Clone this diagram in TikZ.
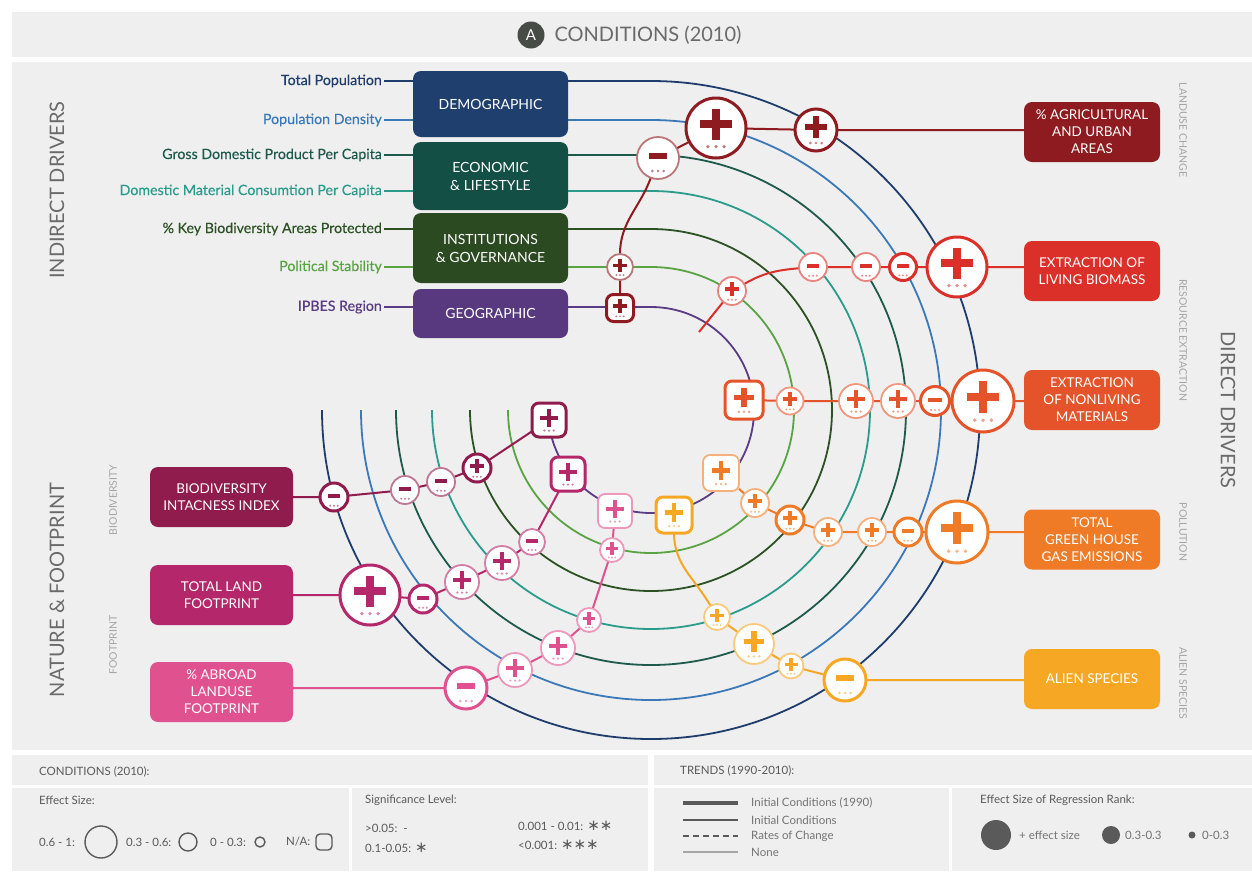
\documentclass[tikz,border=0pt]{standalone}
\usepackage{fontspec}
\setmainfont{Lato}
\newfontfamily\latom{Lato}[FakeBold=0.35]
\newfontfamily\djv{DejaVu Sans}
\usetikzlibrary{calc}
\pgfdeclarelayer{panel}\pgfdeclarelayer{bg}\pgfsetlayers{panel,bg,main}
\definecolor{cPanel}{HTML}{EFEFEF}
\definecolor{cTP}{HTML}{1F3D6C}
\definecolor{cPD}{HTML}{3B78B8}
\definecolor{cGDP}{HTML}{1D5A4C}
\definecolor{cDMC}{HTML}{2B9B8C}
\definecolor{cKBA}{HTML}{2C5224}
\definecolor{cPS}{HTML}{5AA343}
\definecolor{cIP}{HTML}{5A3B85}
\definecolor{cDem}{HTML}{1F3F6E}
\definecolor{cEco}{HTML}{134F45}
\definecolor{cIns}{HTML}{2C4A21}
\definecolor{cGeo}{HTML}{58397F}
\definecolor{cAgri}{HTML}{8E1B1F}
\definecolor{cLiv}{HTML}{DA3029}
\definecolor{cNon}{HTML}{E4532A}
\definecolor{cGhg}{HTML}{EF7B27}
\definecolor{cAli}{HTML}{F6A724}
\definecolor{cBii}{HTML}{8F1C4C}
\definecolor{cTlf}{HTML}{B5276B}
\definecolor{cAlf}{HTML}{E0528F}
\definecolor{cSide}{HTML}{6A6A6A}
\definecolor{cSmall}{HTML}{A5A5A5}
\definecolor{cLg}{HTML}{5A5A5A}
\definecolor{cBadge}{HTML}{474D46}
% sign mark: x y r color sign
\newcommand\sgmark[5]{%
  \ifx p#5%
    \fill[#4] ({#1-0.52*(#3)},{#2-0.265*(#3)}) rectangle ({#1+0.52*(#3)},{#2+0.005*(#3)});
    \fill[#4] ({#1-0.135*(#3)},{#2-0.65*(#3)}) rectangle ({#1+0.135*(#3)},{#2+0.39*(#3)});
  \else
    \fill[#4] ({#1-0.45*(#3)},{#2-0.24*(#3)}) rectangle ({#1+0.45*(#3)},{#2+0.04*(#3)});
  \fi
  \foreach \k in {-0.27,0,0.27}{\fill[#4!55!white] ({#1+(\k)*(#3)},{#2+0.62*(#3)}) circle[radius={0.045*(#3)+0.5}];}%
}
\newcommand\sgc[7]{%
  \node[sgn#7=#5, circle, minimum size={2*(#4)}] (#1) at (#2,#3) {};
  \sgmark{#2}{#3}{#4}{#5}{#6}}
\newcommand\sgs[7]{%
  \node[sgn#7=#5, rounded corners=7pt, minimum size={#4}] (#1) at (#2,#3) {};
  \sgmark{#2}{#3}{0.5*(#4)}{#5}{#6}}
\begin{document}
\begin{tikzpicture}[x=1pt,y=-1pt,
  sgnk/.style={draw=#1, line width=3pt, fill=white, inner sep=0pt, outer sep=0pt},
  sgnt/.style={draw=#1!60!white, line width=1.8pt, fill=white, inner sep=0pt, outer sep=0pt},
  chn/.style={line width=2pt, draw=#1},
  arcl/.style={line width=1.8pt, draw=#1},
  lbl/.style={font=\latom\fontsize{14.2}{16}\selectfont, anchor=east, inner sep=2pt},
  idbox/.style={rounded corners=8pt, minimum width=155pt, text=white, align=center, font=\fontsize{14}{18}\selectfont, inner sep=2pt},
  ddbox/.style={rounded corners=8pt, minimum width=136pt, minimum height=60pt, text=white, align=center, font=\fontsize{13.5}{17}\selectfont, inner sep=2pt},
  nfbox/.style={rounded corners=8pt, minimum width=143pt, minimum height=60pt, text=white, align=center, font=\fontsize{13.5}{17}\selectfont, inner sep=2pt},
  side/.style={text=cSide, font=\fontsize{20}{24}\selectfont},
  small/.style={text=cSmall, font=\fontsize{10.5}{12}\selectfont},
  lg/.style={text=cLg, font=\fontsize{11.5}{13}\selectfont, anchor=west, inner sep=1pt},
  lgc/.style={circle, draw=cLg, line width=1.4pt, inner sep=0pt}
]
\useasboundingbox (0,0) rectangle (1252,871);
\begin{pgfonlayer}{panel}
  \fill[white] (0,0) rectangle (1252,871);
  \fill[cPanel] (12,12) rectangle (1252,57);
  \fill[cPanel] (12,62) rectangle (1252,750);
  \fill[cPanel] (12,755) rectangle (1252,871);
  \draw[white, line width=3pt] (12,786) -- (1252,786);
  \draw[white, line width=6pt] (651,755) -- (651,871);
  \draw[white, line width=3pt] (350,788) -- (350,871);
  \draw[white, line width=3pt] (950,788) -- (950,871);
\end{pgfonlayer}

% header
\node[circle, fill=cBadge, minimum size=27pt, text=white, font=\fontsize{15}{15}\selectfont, inner sep=0pt] (badge) at (531,35) {A};
\node[anchor=west, text=cSide, font=\fontsize{20}{24}\selectfont] (hdr) at (551,35) {CONDITIONS (2010)};

% side titles
\node[side, rotate=90] (tind) at (57,190) {INDIRECT DRIVERS};
\node[side, rotate=90] (tnat) at (57,590) {NATURE \& FOOTPRINT};
\node[side, rotate=-90] (tdir) at (1228,410) {DIRECT DRIVERS};
\node[small, rotate=-90] (s1) at (1183,130) {LANDUSE CHANGE};
\node[small, rotate=-90] (s2) at (1183,340) {RESOURCE EXTRACTION};
\node[small, rotate=-90] (s3) at (1183,532) {POLLUTION};
\node[small, rotate=-90] (s4) at (1183,683) {ALIEN SPECIES};
\node[small, rotate=90] (s5) at (113,500) {BIODIVERSITY};
\node[small, rotate=90] (s6) at (113,645) {FOOTPRINT};

% indirect driver boxes
\node[idbox, fill=cDem, minimum height=66pt] (dem) at (490.5,104) {DEMOGRAPHIC};
\node[idbox, fill=cEco, minimum height=68pt] (eco) at (490.5,176) {ECONOMIC\\\& LIFESTYLE};
\node[idbox, fill=cIns, minimum height=70pt] (ins) at (490.5,248) {INSTITUTIONS\\\& GOVERNANCE};
\node[idbox, fill=cGeo, minimum height=49pt] (geo) at (490.5,313.5) {GEOGRAPHIC};

\node[lbl, text=cTP] (tp) at (384,81) {Total Population};
\node[lbl, text=cPD] (pd) at (384,120) {Population Density};
\node[lbl, text=cGDP] (gdp) at (384,155) {Gross Domestic Product Per Capita};
\node[lbl, text=cDMC] (dmc) at (384,191) {Domestic Material Consumtion Per Capita};
\node[lbl, text=cKBA] (kba) at (384,229) {\% Key Biodiversity Areas Protected};
\node[lbl, text=cPS] (ps) at (384,267) {Political Stability};
\node[lbl, text=cIP] (ip) at (384,307) {IPBES Region};

% direct driver boxes
\node[ddbox, fill=cAgri] (agri) at (1092,132) {\% AGRICULTURAL\\AND URBAN\\AREAS};
\node[ddbox, fill=cLiv] (liv) at (1092,271) {EXTRACTION OF\\LIVING BIOMASS};
\node[ddbox, fill=cNon] (non) at (1092,400) {EXTRACTION\\OF NONLIVING\\MATERIALS};
\node[ddbox, fill=cGhg] (ghg) at (1092,539.5) {TOTAL\\GREEN HOUSE\\GAS EMISSIONS};
\node[ddbox, fill=cAli] (ali) at (1092,679) {ALIEN SPECIES};

% nature boxes
\node[nfbox, fill=cBii] (bii) at (221.5,497) {BIODIVERSITY\\INTACNESS INDEX};
\node[nfbox, fill=cTlf] (tlf) at (221.5,595) {TOTAL LAND\\FOOTPRINT};
\node[nfbox, fill=cAlf] (alf) at (221.5,692) {\% ABROAD\\LANDUSE\\FOOTPRINT};

% sign nodes
\sgc{a1}{816}{130}{21}{cAgri}{p}{k}
\sgc{a2}{716}{128}{30}{cAgri}{p}{k}
\sgc{a3}{658}{158}{21}{cAgri}{m}{t}
\sgc{a4}{620}{267}{13}{cAgri}{p}{t}
\sgs{a5}{620}{308}{27}{cAgri}{p}{k}

\sgc{b1}{957}{267}{30}{cLiv}{p}{k}
\sgc{b2}{903}{267}{13.5}{cLiv}{m}{k}
\sgc{b3}{866}{267}{14}{cLiv}{m}{t}
\sgc{b4}{813}{267}{14}{cLiv}{m}{t}
\sgc{b5}{732}{291}{14}{cLiv}{p}{t}
\coordinate (bend) at (699,332);

\sgc{c1}{983}{401}{31}{cNon}{p}{k}
\sgc{c2}{935}{401}{14.5}{cNon}{m}{k}
\sgc{c3}{898}{401}{17}{cNon}{p}{t}
\sgc{c4}{856}{401}{17}{cNon}{p}{t}
\sgc{c5}{790}{401}{13.5}{cNon}{p}{t}
\sgs{c6}{744}{400}{38}{cNon}{p}{k}

\sgc{d1}{957}{532}{31}{cGhg}{p}{k}
\sgc{d2}{908}{532}{14}{cGhg}{m}{k}
\sgc{d3}{872}{532}{14}{cGhg}{p}{t}
\sgc{d4}{828}{532}{14}{cGhg}{p}{t}
\sgc{d5}{790}{520}{14}{cGhg}{p}{k}
\sgc{d6}{755}{503}{14}{cGhg}{p}{t}
\sgs{d7}{721}{473}{36}{cGhg}{p}{t}

\sgc{e1}{845}{680}{21}{cAli}{m}{k}
\sgc{e2}{791}{666}{12.5}{cAli}{p}{t}
\sgc{e3}{754}{644}{20}{cAli}{p}{t}
\sgc{e4}{717}{617}{13}{cAli}{p}{t}
\sgs{e5}{674}{515}{36}{cAli}{p}{k}

\sgc{f1}{334}{497}{14}{cBii}{m}{k}
\sgc{f2}{405}{490}{14}{cBii}{m}{t}
\sgc{f3}{441}{482}{14}{cBii}{m}{t}
\sgc{f4}{477}{468}{14}{cBii}{p}{k}
\sgs{f5}{549}{420}{34}{cBii}{p}{k}

\sgc{g1}{370}{595}{30}{cTlf}{p}{k}
\sgc{g2}{423}{599}{14}{cTlf}{m}{k}
\sgc{g3}{462}{582}{17}{cTlf}{p}{t}
\sgc{g4}{502}{563}{17}{cTlf}{p}{t}
\sgc{g5}{532}{542}{13}{cTlf}{m}{t}
\sgs{g6}{568}{474}{34}{cTlf}{p}{k}

\sgc{h1}{466}{688}{21}{cAlf}{m}{k}
\sgc{h2}{515}{670}{17}{cAlf}{p}{t}
\sgc{h3}{558}{648}{17}{cAlf}{p}{t}
\sgc{h4}{589}{620}{12}{cAlf}{p}{t}
\sgc{h5}{612}{550}{12}{cAlf}{p}{t}
\sgs{h6}{615}{511}{34}{cAlf}{p}{t}

\begin{pgfonlayer}{bg}
  % label ticks
  \draw[arcl=cTP] (tp.east) -- (tp.east -| dem.west);
  \draw[arcl=cPD] (pd.east) -- (pd.east -| dem.west);
  \draw[arcl=cGDP] (gdp.east) -- (gdp.east -| eco.west);
  \draw[arcl=cDMC] (dmc.east) -- (dmc.east -| eco.west);
  \draw[arcl=cKBA] (kba.east) -- (kba.east -| ins.west);
  \draw[arcl=cPS] (ps.east) -- (ps.east -| ins.west);
  \draw[arcl=cIP] (ip.east) -- (ip.east -| geo.west);
  % arcs
  \draw[arcl=cTP] (tp.east -| dem.east) -- (651,81) arc[start angle=-90, end angle=180, radius=329];
  \draw[arcl=cPD] (pd.east -| dem.east) -- (651,120) arc[start angle=-90, end angle=180, radius=290];
  \draw[arcl=cGDP] (gdp.east -| eco.east) -- (651,155) arc[start angle=-90, end angle=180, radius=255];
  \draw[arcl=cDMC] (dmc.east -| eco.east) -- (651,191) arc[start angle=-90, end angle=180, radius=219];
  \draw[arcl=cKBA] (kba.east -| ins.east) -- (651,229) arc[start angle=-90, end angle=180, radius=181];
  \draw[arcl=cPS] (ps.east -| ins.east) -- (651,267) arc[start angle=-90, end angle=180, radius=143];
  \draw[arcl=cIP] (ip.east -| geo.east) -- (651,307) arc[start angle=-90, end angle=180, radius=103];
  % chains
  \draw[chn=cAgri] (a1 -| agri.west) -- (a1) -- (a2) -- (a3) to[out=250,in=90] (a4) -- (a5);
  \draw[chn=cLiv] (b1 -| liv.west) -- (b1) -- (b2) -- (b3) -- (b4) to[out=185,in=30] (b5) -- (bend);
  \draw[chn=cNon] (c1 -| non.west) -- (c1) -- (c2) -- (c3) -- (c4) -- (c5) -- (c6);
  \draw[chn=cGhg] (d1 -| ghg.west) -- (d1) -- (d2) -- (d3) -- (d4) -- (d5) -- (d6) -- (d7);
  \draw[chn=cAli] (e1 -| ali.west) -- (e1) -- (e2) -- (e3) -- (e4) to[out=120,in=-90] (e5);
  \draw[chn=cBii] (bii.east) -- (f1) -- (f2) -- (f3) -- (f4) -- (f5);
  \draw[chn=cTlf] (tlf.east) -- (g1) -- (g2) -- (g3) -- (g4) -- (g5) -- (g6);
  \draw[chn=cAlf] (h1 -| alf.east) -- (h1) -- (h2) -- (h3) -- (h4) -- (h5) -- (h6);
\end{pgfonlayer}

% legend
\node[lg] (lcond) at (38,772) {CONDITIONS (2010):};
\node[lg] (les) at (38,800) {Effect Size:};
\node[lg] (l1) at (38,842) {0.6 - 1:};
\node[lgc, minimum size=32pt] (lc1) at (101,842) {};
\node[lg] (l2) at (125,842) {0.3 - 0.6:};
\node[lgc, minimum size=18pt] (lc2) at (188,842) {};
\node[lg] (l3) at (209,842) {0 - 0.3:};
\node[lgc, minimum size=10pt] (lc3) at (260,842) {};
\node[lg] (l4) at (285,842) {N/A:};
\node[draw=cLg, line width=1.4pt, rounded corners=4pt, minimum size=16pt, inner sep=0pt] (lc4) at (324,842) {};

\node[lg] (lsig) at (364,800) {Significance Level:};
\node[lg] (ls1) at (364,828) {>0.05:\ \ -};
\node[lg] (ls2) at (364,848) {0.1-0.05: {\fontsize{15}{15}\djv ∗}};
\node[lg] (ls3) at (517,826) {0.001 - 0.01: {\fontsize{15}{15}\djv ∗∗}};
\node[lg] (ls4) at (517,845) {<0.001: {\fontsize{15}{15}\djv ∗∗∗}};

\node[lg] (ltr) at (679,771) {TRENDS (1990-2010):};
\coordinate (t1a) at (683,803); \coordinate (t1b) at (738,803);
\coordinate (t2a) at (683,820); \coordinate (t2b) at (738,820);
\coordinate (t3a) at (683,836); \coordinate (t3b) at (738,836);
\coordinate (t4a) at (683,852); \coordinate (t4b) at (738,852);
\draw[cLg, line width=3.5pt] (t1a) -- (t1b);
\draw[cLg, line width=2pt] (t2a) -- (t2b);
\draw[cLg, line width=1.8pt, dash pattern=on 6pt off 4pt] (t3a) -- (t3b);
\draw[black!35, line width=1.3pt] (t4a) -- (t4b);
\node[lg, text=black!55] (lt1) at (750,803) {Initial Conditions (1990)};
\node[lg, text=black!55] (lt2) at (750,820) {Initial Conditions};
\node[lg, text=black!55] (lt3) at (750,836) {Rates of Change};
\node[lg, text=black!55] (lt4) at (750,852) {None};

\node[lg] (lrr) at (979,800) {Effect Size of Regression Rank:};
\node[circle, fill=cLg, minimum size=30pt, inner sep=0pt] (rr1) at (996,835) {};
\node[lg, text=black!55] (lr1) at (1018,835) {+ effect size};
\node[circle, fill=cLg, minimum size=18pt, inner sep=0pt] (rr2) at (1111,835) {};
\node[lg, text=black!55] (lr2) at (1124,835) {0.3-0.3};
\node[circle, fill=cLg, minimum size=7pt, inner sep=0pt] (rr3) at (1192,835) {};
\node[lg, text=black!55] (lr3) at (1201,835) {0-0.3};
\end{tikzpicture}
\end{document}
